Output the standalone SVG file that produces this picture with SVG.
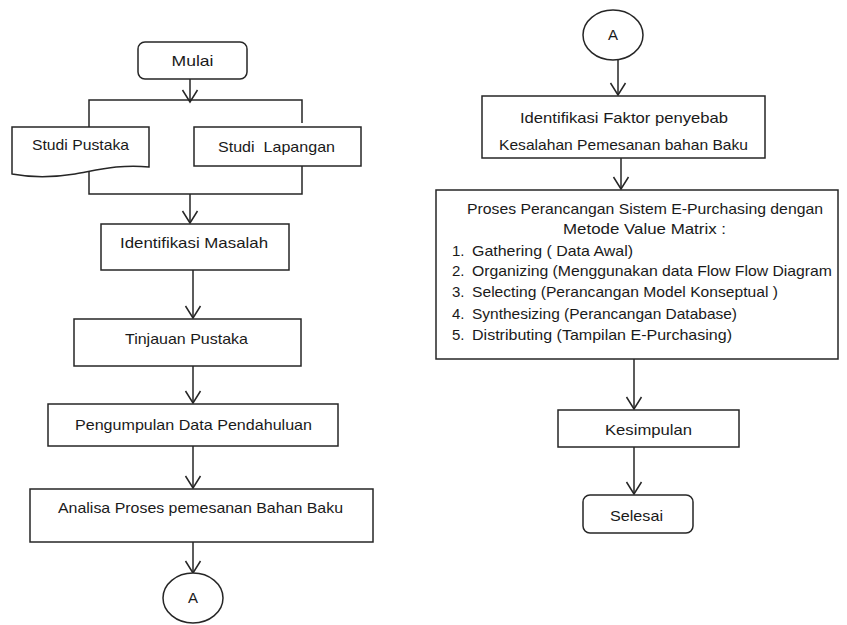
<svg xmlns="http://www.w3.org/2000/svg" width="847" height="625" viewBox="0 0 847 625">
<style>
.box{fill:#fff;stroke:#262626;stroke-width:1.5}
.ln{fill:none;stroke:#262626;stroke-width:1.5}
.arr{fill:none;stroke:#262626;stroke-width:1.5;marker-end:url(#v)}
text{font-family:"Liberation Sans",Arial,sans-serif;font-size:15px;fill:#1a1a1a;white-space:pre}
.c{text-anchor:middle}
</style>
<defs>
<marker id="v" markerUnits="userSpaceOnUse" markerWidth="30" markerHeight="30" viewBox="-15 -15 30 30" refX="0" refY="0" orient="auto" overflow="visible">
<path d="M-12,-7.5 L0,0 L-12,7.5" fill="none" stroke="#262626" stroke-width="1.5"/>
</marker>
</defs>
<rect width="847" height="625" fill="#fff"/>
<g id="connectors">
<line class="arr" x1="190" y1="79" x2="190" y2="102"/>
<polyline class="ln" points="89,127 89,100 302,100 302,123"/>
<polyline class="ln" points="89,172 89,194 302,194 302,166"/>
<line class="arr" x1="190" y1="194" x2="190" y2="223"/>
<line class="arr" x1="193" y1="270" x2="193" y2="318"/>
<line class="arr" x1="193" y1="366" x2="193" y2="403"/>
<line class="arr" x1="193" y1="446" x2="193" y2="488"/>
<line class="arr" x1="193" y1="542" x2="193" y2="573"/>
<line class="arr" x1="618" y1="60" x2="618" y2="95"/>
<line class="arr" x1="621" y1="158" x2="621" y2="189"/>
<line class="arr" x1="634" y1="359" x2="634" y2="409"/>
<line class="arr" x1="634" y1="447" x2="634" y2="494"/>
</g>
<g id="mulai">
<rect class="box" x="138" y="42" width="109" height="37" rx="7"/>
<text class="c" x="192.5" y="66" textLength="42" lengthAdjust="spacingAndGlyphs">Mulai</text>
</g>
<g id="studi-pustaka">
<path class="box" d="M12,127 H149 V167 C120,164 98,170 75,174 C50,178 28,177 12,174 Z"/>
<text x="32" y="150" textLength="97" lengthAdjust="spacingAndGlyphs">Studi Pustaka</text>
</g>
<g id="studi-lapangan">
<rect class="box" x="194" y="127" width="167" height="39"/>
<text x="218" y="152" textLength="117" lengthAdjust="spacingAndGlyphs">Studi  Lapangan</text>
</g>
<g id="identifikasi-masalah">
<rect class="box" x="101" y="224" width="188" height="46"/>
<text x="120" y="248" textLength="148" lengthAdjust="spacingAndGlyphs">Identifikasi Masalah</text>
</g>
<g id="tinjauan-pustaka">
<rect class="box" x="74" y="319" width="227" height="47"/>
<text x="125" y="344" textLength="123" lengthAdjust="spacingAndGlyphs">Tinjauan Pustaka</text>
</g>
<g id="pengumpulan">
<rect class="box" x="48" y="404" width="290" height="42"/>
<text x="75" y="430" textLength="237" lengthAdjust="spacingAndGlyphs">Pengumpulan Data Pendahuluan</text>
</g>
<g id="analisa">
<rect class="box" x="30" y="489" width="343" height="53"/>
<text x="58" y="513" textLength="285" lengthAdjust="spacingAndGlyphs">Analisa Proses pemesanan Bahan Baku</text>
</g>
<g id="connector-a-out">
<ellipse class="box" cx="193" cy="598" rx="30" ry="25"/>
<text class="c" x="193" y="603">A</text>
</g>
<g id="connector-a-in">
<ellipse class="box" cx="613" cy="35" rx="30" ry="25"/>
<text class="c" x="613" y="40">A</text>
</g>
<g id="identifikasi-faktor">
<rect class="box" x="482" y="96" width="283" height="62"/>
<text x="520" y="123" textLength="208" lengthAdjust="spacingAndGlyphs">Identifikasi Faktor penyebab</text>
<text x="499" y="150" textLength="249" lengthAdjust="spacingAndGlyphs">Kesalahan Pemesanan bahan Baku</text>
</g>
<g id="proses-perancangan">
<rect class="box" x="436" y="190" width="402" height="169"/>
<text x="467" y="214" textLength="356" lengthAdjust="spacingAndGlyphs">Proses Perancangan Sistem E-Purchasing dengan</text>
<text x="563" y="234" textLength="163" lengthAdjust="spacingAndGlyphs">Metode Value Matrix :</text>
<text x="452" y="256">1.</text>
<text x="472" y="256" textLength="161" lengthAdjust="spacingAndGlyphs">Gathering ( Data Awal)</text>
<text x="452" y="276">2.</text>
<text x="472" y="276" textLength="360" lengthAdjust="spacingAndGlyphs">Organizing (Menggunakan data Flow Flow Diagram</text>
<text x="452" y="297">3.</text>
<text x="472" y="297" textLength="306" lengthAdjust="spacingAndGlyphs">Selecting (Perancangan Model Konseptual )</text>
<text x="452" y="319">4.</text>
<text x="472" y="319" textLength="265" lengthAdjust="spacingAndGlyphs">Synthesizing (Perancangan Database)</text>
<text x="452" y="340">5.</text>
<text x="472" y="340" textLength="260" lengthAdjust="spacingAndGlyphs">Distributing (Tampilan E-Purchasing)</text>
</g>
<g id="kesimpulan">
<rect class="box" x="558" y="410" width="181" height="37"/>
<text x="605" y="435" textLength="87" lengthAdjust="spacingAndGlyphs">Kesimpulan</text>
</g>
<g id="selesai">
<rect class="box" x="583" y="495" width="110" height="38" rx="7"/>
<text x="610" y="521" textLength="53" lengthAdjust="spacingAndGlyphs">Selesai</text>
</g>
</svg>
